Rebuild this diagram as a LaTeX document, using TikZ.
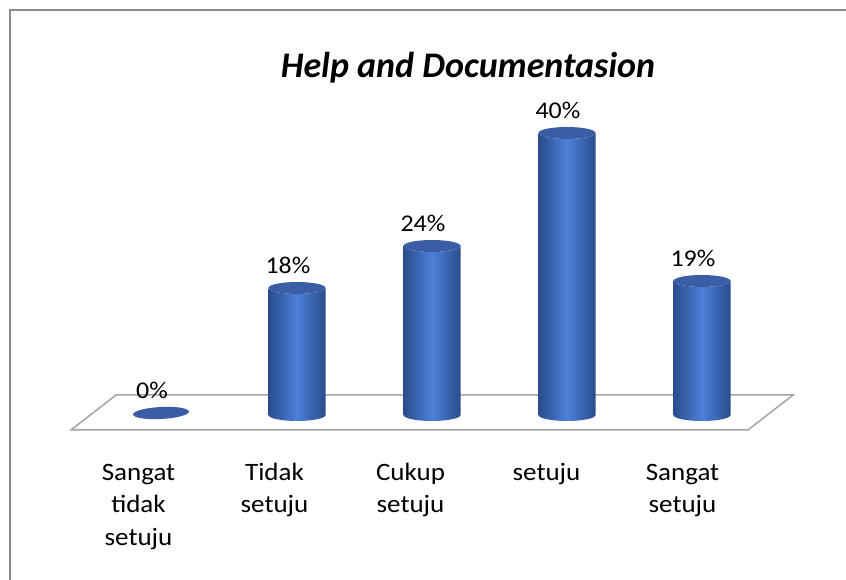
\documentclass[tikz,border=0pt]{standalone}
\usepackage{fontspec}
\setmainfont{Carlito}
\newfontfamily\lblfont[FakeStretch=1.08]{Carlito}
\definecolor{bardark}{HTML}{2B4C8C}
\definecolor{barlight}{HTML}{4C80D9}
\definecolor{bartop}{HTML}{3A5DA5}
\definecolor{framegray}{HTML}{8C8C8C}
\definecolor{floorgray}{HTML}{A5A5A5}
\newcommand\drawcyl[2]{%
  \shade[left color=bardark,right color=bardark,middle color=barlight]
    (#1-28.5,165) arc[start angle=180,end angle=360,x radius=28.5,y radius=6]
    -- (#1+28.5,#2) arc[start angle=0,end angle=-180,x radius=28.5,y radius=6] -- cycle;
  \fill[bartop] (#1,#2) ellipse[x radius=28.5,y radius=6];%
}
\begin{document}
\begin{tikzpicture}[x=1pt,y=1pt,
  pct/.style={anchor=base,inner sep=0pt,font=\lblfont\fontsize{24}{28}\selectfont},
  cat/.style={anchor=north,inner sep=0pt,align=center,font=\lblfont\fontsize{25}{32.5}\selectfont},
  ttl/.style={anchor=base,inner sep=0pt,font=\fontsize{36}{40}\selectfont\bfseries\itshape}]
\useasboundingbox (0,0) rectangle (846,580);
\fill[white] (0,0) rectangle (846,580);
\draw[framegray,line width=2pt] (9.5,0) -- (9.5,570) -- (846,570);
% floor
\draw[floorgray,line width=1.5pt,fill=white] (71,150) -- (748,150) -- (793,185) -- (116,185) -- cycle;
% bars
\fill[bartop,rotate around={3:(161,167)}] (161,167) ellipse[x radius=28,y radius=6];
\drawcyl{297}{292}
\drawcyl{432}{334}
\drawcyl{567}{447}
\drawcyl{702}{299}
% value labels
\node[pct] (v0) at (152,181) {0\%};
\node[pct] (v18) at (288,306) {18\%};
\node[pct] (v24) at (423,348) {24\%};
\node[pct] (v40) at (558,461) {40\%};
\node[pct] (v19) at (693,313) {19\%};
% category labels (first baseline at y=100)
\node[cat] (c1) at (138.5,122) {\rule{0pt}{22pt}Sangat\\tidak\\setuju};
\node[cat] (c2) at (274.5,122) {\rule{0pt}{22pt}Tidak\\setuju};
\node[cat] (c3) at (410.5,122) {\rule{0pt}{22pt}Cukup\\setuju};
\node[cat] (c4) at (546.5,122) {\rule{0pt}{22pt}setuju};
\node[cat] (c5) at (682.5,122) {\rule{0pt}{22pt}Sangat\\setuju};
% title
\node[ttl] (title) at (468,502) {Help and Documentasion};
\end{tikzpicture}
\end{document}
